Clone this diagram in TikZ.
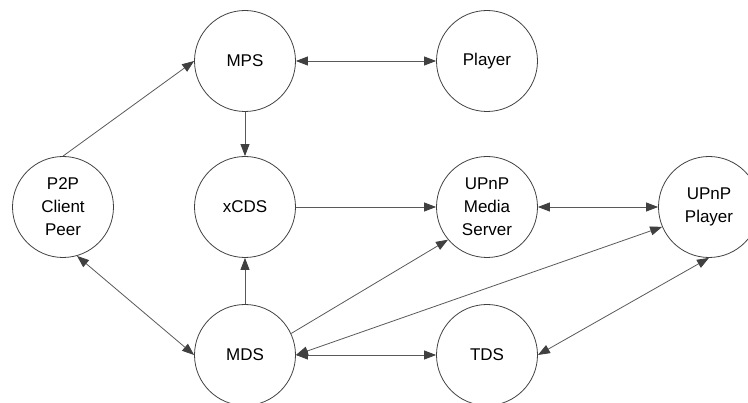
\documentclass[tikz,border=0pt]{standalone}
\usepackage{fontspec}
\setmainfont{Liberation Sans}
\usetikzlibrary{arrows.meta}
\begin{document}
\begin{tikzpicture}[x=1pt,y=-1pt,
  nd/.style={circle, draw=black!75, line width=0.8pt, minimum size=101pt, inner sep=0pt, align=center, font=\fontsize{17}{23}\selectfont},
  ln/.style={draw=black!65, line width=0.8pt},
  tipend/.style={-{Triangle[length=12pt,width=9pt,color=black!75]}},
  tipboth/.style={{Triangle[length=12pt,width=9pt,color=black!75]}-{Triangle[length=12pt,width=9pt,color=black!75]}}]
\clip (0,0) rectangle (748,403);
\node[nd] (mps) at (245,61) {MPS};
\node[nd] (player) at (487,61) {Player};
\node[nd] (p2p) at (63,207) {P2P\\Client\\Peer};
\node[nd] (xcds) at (245,207) {xCDS};
\node[nd] (ms) at (487,207) {UPnP\\Media\\Server};
\node[nd] (up) at (709,207) {UPnP\\Player};
\node[nd] (mds) at (245,355) {MDS};
\node[nd] (tds) at (487,355) {TDS};
\draw[ln,tipend] (p2p.north) -- (mps.west);
\draw[ln,tipboth] (mps.east) -- (player.west);
\draw[ln,tipend] (mps.south) -- (xcds.north);
\draw[ln,tipboth] (p2p.-74) -- (mds.west);
\draw[ln,tipend] (mds.north) -- (xcds.south);
\draw[ln,tipend] (xcds.east) -- (ms.west);
\draw[ln,tipend] (mds.25) -- (ms.-140);
\draw[ln,tipboth] (up.-157) -- (mds.east);
\draw[ln,tipboth] (mds.east) -- (tds.west);
\draw[ln,tipboth] (ms.east) -- (up.west);
\draw[ln,tipboth] (tds.east) -- (up.south);
\end{tikzpicture}
\end{document}
